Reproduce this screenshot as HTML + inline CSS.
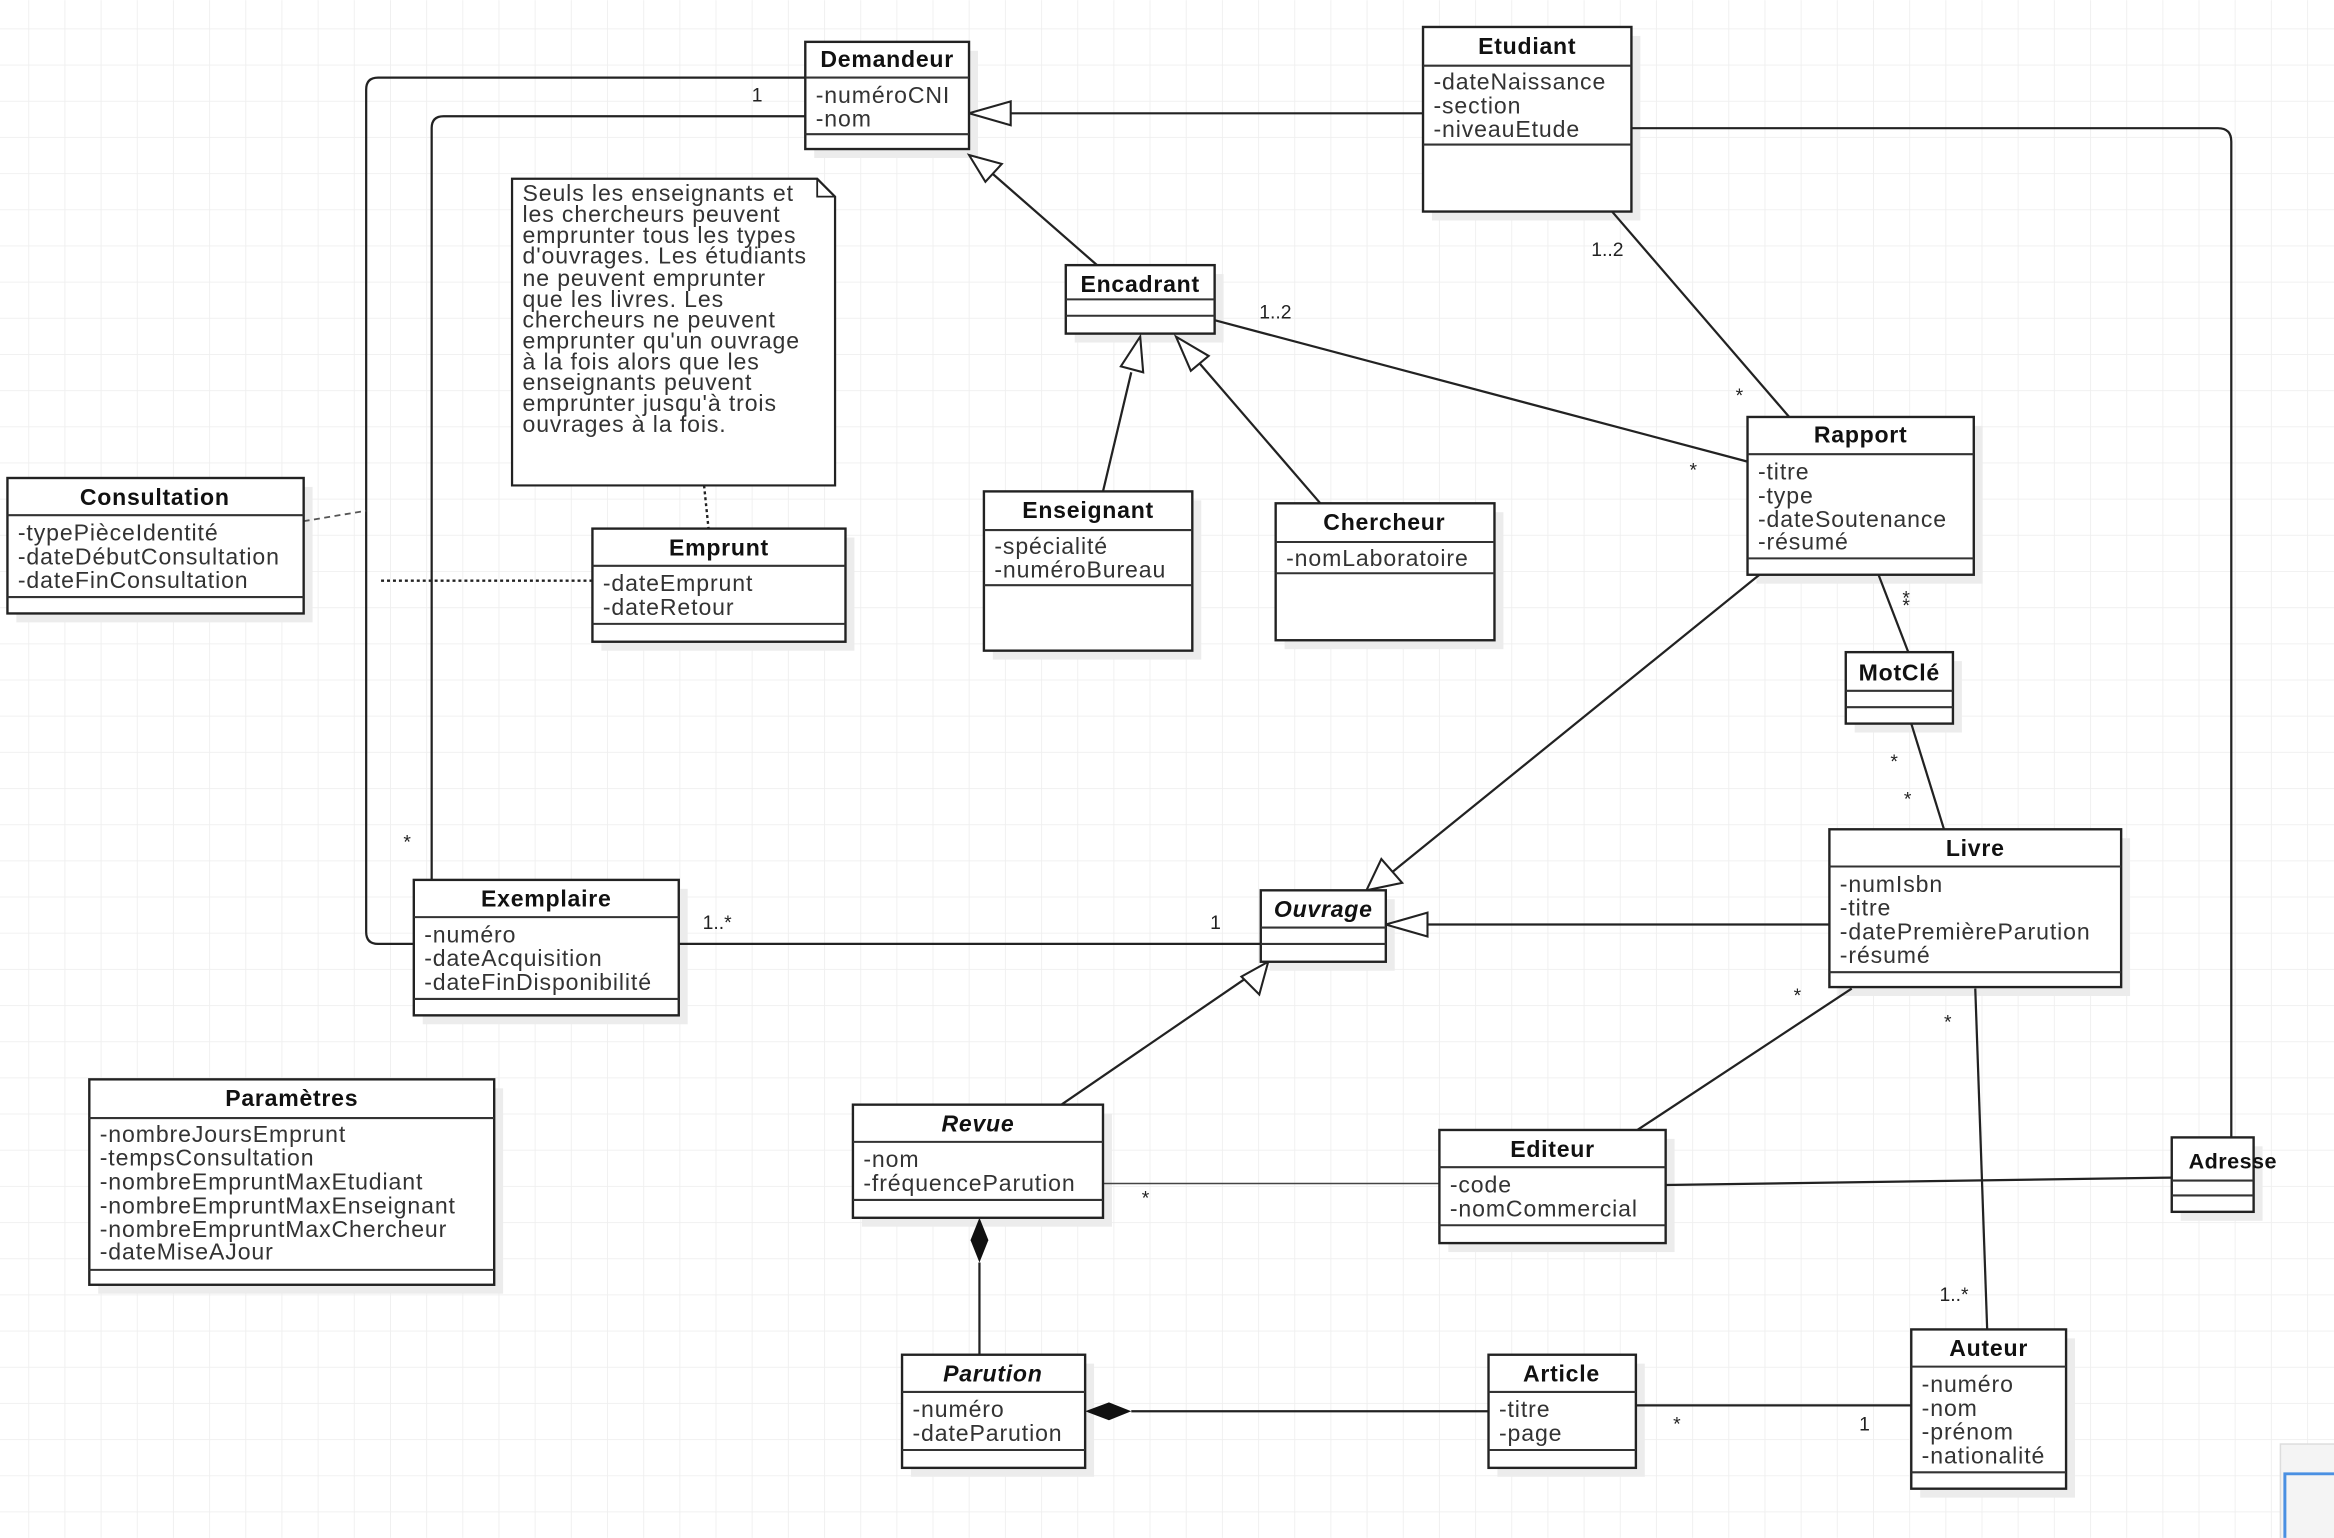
<!DOCTYPE html>
<html><head><meta charset="utf-8"><style>
html,body{margin:0;padding:0;background:#fff;}
svg{display:block;}
text{font-family:"Liberation Sans",sans-serif;fill:#222;}
.t{font-weight:bold;font-size:15.5px;letter-spacing:0.5px;text-anchor:middle;fill:#111;}
.i{font-style:italic;}
.a{font-size:15.5px;letter-spacing:0.6px;fill:#333;}
.b{fill:#fff;stroke:#222;stroke-width:1.6;}
.sh{fill:#ececec;}
.s{stroke:#333;stroke-width:1.4;}
.l{stroke:#222;stroke-width:1.5;fill:none;}
.m{font-size:13px;fill:#333;}
.n{font-size:15.5px;letter-spacing:0.6px;fill:#333;}
</style></head><body>
<svg width="2334" height="1538" viewBox="0 0 1568 1033" xmlns="http://www.w3.org/2000/svg">
<defs>
<pattern id="g" x="19" y="19" width="24.3" height="24.3" patternUnits="userSpaceOnUse">
<path d="M0 0H24.3M0 0V24.3" stroke="#efefef" stroke-width="1.2" fill="none"/>
</pattern>
</defs>
<rect width="1568" height="1033" fill="#fff"/>
<rect width="1568" height="1033" fill="url(#g)"/>

<g class="sh">
<rect x="547" y="34" width="110" height="72"/>
<rect x="962" y="24" width="140" height="124"/>
<rect x="722" y="184" width="100" height="46"/>
<rect x="667" y="336" width="140" height="107"/>
<rect x="863" y="344" width="147" height="92"/>
<rect x="1180" y="286" width="152" height="106"/>
<rect x="1246" y="444" width="72" height="48"/>
<rect x="1235" y="563" width="196" height="106"/>
<rect x="853" y="604" width="84" height="48"/>
<rect x="284" y="597" width="178" height="91"/>
<rect x="404" y="361" width="170" height="76"/>
<rect x="11" y="327" width="199" height="91"/>
<rect x="66" y="731" width="272" height="138"/>
<rect x="579" y="748" width="168" height="76"/>
<rect x="973" y="765" width="152" height="76"/>
<rect x="1465" y="770" width="55" height="50"/>
<rect x="612" y="916" width="123" height="76"/>
<rect x="1006" y="916" width="99" height="76"/>
<rect x="1290" y="899" width="104" height="107"/>
</g>

<g class="l">
<path d="M541 52H254Q246 52 246 60V626Q246 634 254 634H278"/>
<path d="M541 78H298Q290 78 290 86V591"/>
<path d="M671 76H956"/>
<path d="M737 178L665 115"/>
<path d="M741 330L760 250"/>
<path d="M887 338L805 243"/>
<path d="M816 215L1174 310"/>
<path d="M1083 142L1202 280"/>
<path d="M1262 386L1282 438"/>
<path d="M1284 486L1306 557"/>
<path d="M1182 386L935 586"/>
<path d="M951 621H1229"/>
<path d="M713 742L840 655"/>
<path d="M456 634H847"/>
<path d="M1096 86H1490Q1499 86 1499 95V764"/>
<path d="M1244 664L1100 759"/>
<path d="M1327 664L1335 893"/>
<path d="M1119 796L1459 791"/>
<path d="M658 848V910"/>
<path d="M760 948H1000"/>
<path d="M1099 944H1284"/>
</g>
<path d="M741 795H967" stroke="#444" stroke-width="1"/>
<path d="M204 350L246 343" stroke="#555" stroke-width="1.2" stroke-dasharray="4 3"/>
<path d="M256 390H398" stroke="#222" stroke-width="1.6" stroke-dasharray="2 2"/>
<path d="M473 326L476 355" stroke="#222" stroke-width="1.6" stroke-dasharray="2 2"/>

<g fill="#fff" stroke="#222" stroke-width="1.4">
<polygon points="651,76 679,68 679,84"/>
<polygon points="651,104 673,110 662,122"/>
<polygon points="766,226 768,250 753,246"/>
<polygon points="790,226 812,239 800,249"/>
<polygon points="918,598 928,577 942,593"/>
<polygon points="931,621 959,613 959,629"/>
<polygon points="852,646 846,668 834,656"/>
</g>
<g fill="#111">
<polygon points="658,818 664,833 658,848 652,833"/>
<polygon points="729,948 745,942 760,948 745,954"/>
</g>

<g class="m">
<text x="505" y="68">1</text>
<text x="271" y="570">*</text>
<text x="846" y="214">1..2</text>
<text x="1135" y="320">*</text>
<text x="1069" y="172">1..2</text>
<text x="1166" y="270">*</text>
<text x="1278" y="411">*</text>
<text x="1278" y="406">*</text>
<text x="1270" y="516">*</text>
<text x="1279" y="541">*</text>
<text x="472" y="624">1..*</text>
<text x="813" y="624">1</text>
<text x="1205" y="673">*</text>
<text x="1306" y="691">*</text>
<text x="1303" y="874">1..*</text>
<text x="767" y="809">*</text>
<text x="1124" y="961">*</text>
<text x="1249" y="961">1</text>
</g>

<path d="M344 120H549L561 132V326H344Z" fill="#fff" stroke="#222" stroke-width="1.5"/>
<path d="M549 120V132H561" fill="none" stroke="#222" stroke-width="1.2"/>
<text class="n"><tspan x="351" y="135">Seuls les enseignants et</tspan><tspan x="351" y="149">les chercheurs peuvent</tspan><tspan x="351" y="163">emprunter tous les types</tspan><tspan x="351" y="177">d'ouvrages. Les étudiants</tspan><tspan x="351" y="192">ne peuvent emprunter</tspan><tspan x="351" y="206">que les livres. Les</tspan><tspan x="351" y="220">chercheurs ne peuvent</tspan><tspan x="351" y="234">emprunter qu'un ouvrage</tspan><tspan x="351" y="248">à la fois alors que les</tspan><tspan x="351" y="262">enseignants peuvent</tspan><tspan x="351" y="276">emprunter jusqu'à trois</tspan><tspan x="351" y="290">ouvrages à la fois.</tspan></text>

<rect class="b" x="541" y="28" width="110" height="72"/>
<path class="s" d="M541 52H651M541 90H651"/>
<text class="t" x="596" y="45">Demandeur</text>
<text class="a"><tspan x="548" y="69">-numéroCNI</tspan><tspan x="548" y="85">-nom</tspan></text>

<rect class="b" x="956" y="18" width="140" height="124"/>
<path class="s" d="M956 44H1096M956 97H1096"/>
<text class="t" x="1026" y="36">Etudiant</text>
<text class="a"><tspan x="963" y="60">-dateNaissance</tspan><tspan x="963" y="76">-section</tspan><tspan x="963" y="92">-niveauEtude</tspan></text>

<rect class="b" x="716" y="178" width="100" height="46"/>
<path class="s" d="M716 201H816M716 212H816"/>
<text class="t" x="766" y="196">Encadrant</text>

<rect class="b" x="661" y="330" width="140" height="107"/>
<path class="s" d="M661 356H801M661 393H801"/>
<text class="t" x="731" y="348">Enseignant</text>
<text class="a"><tspan x="668" y="372">-spécialité</tspan><tspan x="668" y="388">-numéroBureau</tspan></text>

<rect class="b" x="857" y="338" width="147" height="92"/>
<path class="s" d="M857 364H1004M857 385H1004"/>
<text class="t" x="930" y="356">Chercheur</text>
<text class="a"><tspan x="864" y="380">-nomLaboratoire</tspan></text>

<rect class="b" x="1174" y="280" width="152" height="106"/>
<path class="s" d="M1174 305H1326M1174 375H1326"/>
<text class="t" x="1250" y="297">Rapport</text>
<text class="a"><tspan x="1181" y="322">-titre</tspan><tspan x="1181" y="338">-type</tspan><tspan x="1181" y="354">-dateSoutenance</tspan><tspan x="1181" y="369">-résumé</tspan></text>

<rect class="b" x="1240" y="438" width="72" height="48"/>
<path class="s" d="M1240 464H1312M1240 475H1312"/>
<text class="t" x="1276" y="457">MotClé</text>

<rect class="b" x="1229" y="557" width="196" height="106"/>
<path class="s" d="M1229 582H1425M1229 653H1425"/>
<text class="t" x="1327" y="575">Livre</text>
<text class="a"><tspan x="1236" y="599">-numIsbn</tspan><tspan x="1236" y="615">-titre</tspan><tspan x="1236" y="631">-datePremièreParution</tspan><tspan x="1236" y="647">-résumé</tspan></text>

<rect class="b" x="847" y="598" width="84" height="48"/>
<path class="s" d="M847 623H931M847 634H931"/>
<text class="t i" x="889" y="616">Ouvrage</text>

<rect class="b" x="278" y="591" width="178" height="91"/>
<path class="s" d="M278 616H456M278 671H456"/>
<text class="t" x="367" y="609">Exemplaire</text>
<text class="a"><tspan x="285" y="633">-numéro</tspan><tspan x="285" y="649">-dateAcquisition</tspan><tspan x="285" y="665">-dateFinDisponibilité</tspan></text>

<rect class="b" x="398" y="355" width="170" height="76"/>
<path class="s" d="M398 380H568M398 419H568"/>
<text class="t" x="483" y="373">Emprunt</text>
<text class="a"><tspan x="405" y="397">-dateEmprunt</tspan><tspan x="405" y="413">-dateRetour</tspan></text>

<rect class="b" x="5" y="321" width="199" height="91"/>
<path class="s" d="M5 346H204M5 401H204"/>
<text class="t" x="104" y="339">Consultation</text>
<text class="a"><tspan x="12" y="363">-typePièceIdentité</tspan><tspan x="12" y="379">-dateDébutConsultation</tspan><tspan x="12" y="395">-dateFinConsultation</tspan></text>

<rect class="b" x="60" y="725" width="272" height="138"/>
<path class="s" d="M60 751H332M60 853H332"/>
<text class="t" x="196" y="743">Paramètres</text>
<text class="a"><tspan x="67" y="767">-nombreJoursEmprunt</tspan><tspan x="67" y="783">-tempsConsultation</tspan><tspan x="67" y="799">-nombreEmpruntMaxEtudiant</tspan><tspan x="67" y="815">-nombreEmpruntMaxEnseignant</tspan><tspan x="67" y="831">-nombreEmpruntMaxChercheur</tspan><tspan x="67" y="846">-dateMiseAJour</tspan></text>

<rect class="b" x="573" y="742" width="168" height="76"/>
<path class="s" d="M573 767H741M573 806H741"/>
<text class="t i" x="657" y="760">Revue</text>
<text class="a"><tspan x="580" y="784">-nom</tspan><tspan x="580" y="800">-fréquenceParution</tspan></text>

<rect class="b" x="967" y="759" width="152" height="76"/>
<path class="s" d="M967 784H1119M967 823H1119"/>
<text class="t" x="1043" y="777">Editeur</text>
<text class="a"><tspan x="974" y="801">-code</tspan><tspan x="974" y="817">-nomCommercial</tspan></text>

<rect class="b" x="1459" y="764" width="55" height="50"/>
<path class="s" d="M1459 793H1514M1459 803H1514"/>
<text class="t" x="1500" y="785" style="font-size:14.5px;letter-spacing:0.3px">Adresse</text>

<rect class="b" x="606" y="910" width="123" height="76"/>
<path class="s" d="M606 935H729M606 974H729"/>
<text class="t i" x="667" y="928">Parution</text>
<text class="a"><tspan x="613" y="952">-numéro</tspan><tspan x="613" y="968">-dateParution</tspan></text>

<rect class="b" x="1000" y="910" width="99" height="76"/>
<path class="s" d="M1000 935H1099M1000 974H1099"/>
<text class="t" x="1049" y="928">Article</text>
<text class="a"><tspan x="1007" y="952">-titre</tspan><tspan x="1007" y="968">-page</tspan></text>

<rect class="b" x="1284" y="893" width="104" height="107"/>
<path class="s" d="M1284 918H1388M1284 989H1388"/>
<text class="t" x="1336" y="911">Auteur</text>
<text class="a"><tspan x="1291" y="935">-numéro</tspan><tspan x="1291" y="951">-nom</tspan><tspan x="1291" y="967">-prénom</tspan><tspan x="1291" y="983">-nationalité</tspan></text>

<rect x="1532" y="970" width="40" height="70" fill="#f4f4f4" stroke="#ddd"/>
<path d="M1535 1033V990H1570" stroke="#4a90e2" stroke-width="2" fill="none"/>
</svg>
</body></html>
